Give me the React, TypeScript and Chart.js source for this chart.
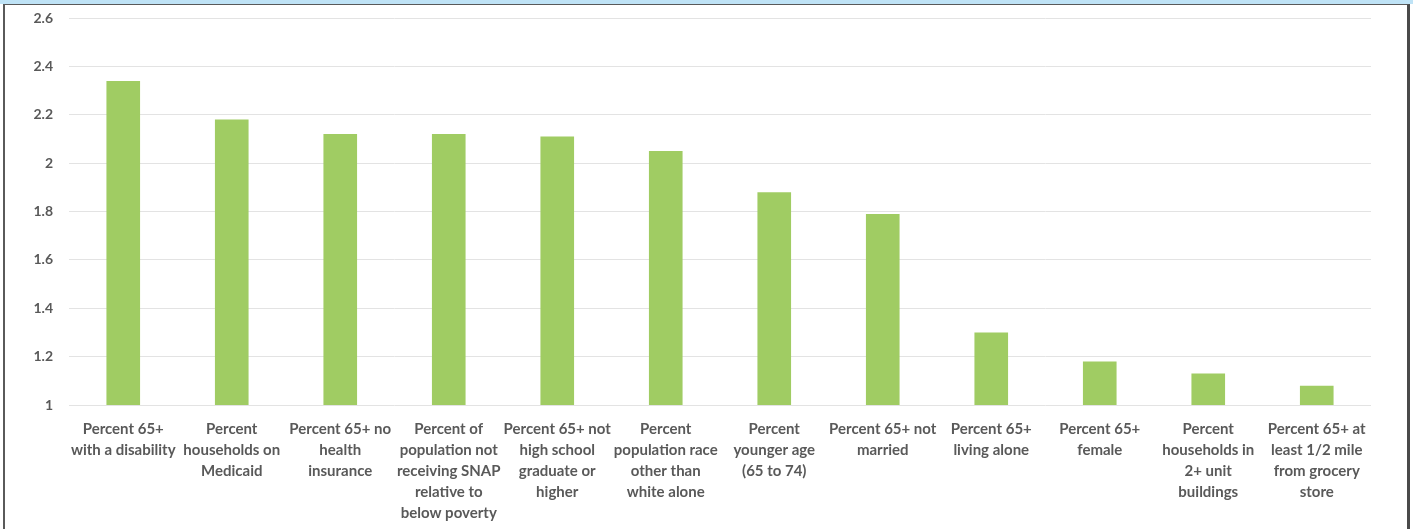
import React, { useEffect, useRef } from "react";
import { Chart, registerables } from "chart.js";

Chart.register(...registerables);

const categories: string[][] = [
  ["Percent 65+", "with a disability"],
  ["Percent", "households on", "Medicaid"],
  ["Percent 65+ no", "health", "insurance"],
  ["Percent of", "population not", "receiving SNAP", "relative to", "below poverty"],
  ["Percent 65+ not", "high school", "graduate or", "higher"],
  ["Percent", "population race", "other than", "white alone"],
  ["Percent", "younger age", "(65 to 74)"],
  ["Percent 65+ not", "married"],
  ["Percent 65+", "living alone"],
  ["Percent 65+", "female"],
  ["Percent", "households in", "2+ unit", "buildings"],
  ["Percent 65+ at", "least 1/2 mile", "from grocery", "store"],
];

const values: number[] = [2.34, 2.18, 2.12, 2.12, 2.11, 2.05, 1.88, 1.79, 1.3, 1.18, 1.13, 1.08];

const yMin = 1;
const yMax = 2.6;
const yStep = 0.2;

export default function App() {
  const canvasRef = useRef<HTMLCanvasElement | null>(null);

  useEffect(() => {
    if (!canvasRef.current) return;
    const font = { family: "Lato, 'Open Sans', sans-serif", size: 15, weight: "bold" as const, lineHeight: 1.4 };
    const chart = new Chart(canvasRef.current, {
      type: "bar",
      data: {
        labels: categories,
        datasets: [
          {
            data: values,
            backgroundColor: "#a0cc63",
            borderWidth: 0,
            barPercentage: 0.31,
            categoryPercentage: 1,
          },
        ],
      },
      options: {
        animation: false,
        responsive: false,
        maintainAspectRatio: false,
        layout: { padding: { top: 18, right: 42, bottom: 0, left: 0 } },
        plugins: { legend: { display: false }, tooltip: { enabled: false } },
        scales: {
          x: {
            grid: { display: false },
            border: { display: false },
            ticks: {
              color: "#595959",
              font,
              maxRotation: 0,
              minRotation: 0,
              autoSkip: false,
              padding: 6,
            },
            afterFit: (axis: any) => {
              axis.height = 124;
              axis.paddingLeft = 0;
              axis.paddingRight = 0;
            },
          },
          y: {
            min: yMin,
            max: yMax,
            grid: { color: "#e3e3e3", lineWidth: 1, drawTicks: false },
            border: { display: false },
            ticks: {
              stepSize: yStep,
              color: "#595959",
              font: { ...font, size: 14 },
              padding: 16,
              callback: (v: any) => String(Math.round(Number(v) * 10) / 10),
            },
            afterFit: (axis: any) => {
              axis.width = 69;
              axis.paddingTop = 0;
              axis.paddingBottom = 0;
            },
          },
        },
      },
    });
    return () => chart.destroy();
  }, []);

  return (
    <div style={{ position: "fixed", left: 0, top: 0, width: 1413, height: 529, background: "#ffffff", overflow: "hidden" }}>
      <div style={{ position: "absolute", left: 0, top: 0, width: 1413, height: 4, background: "#bfe3f6" }} />
      <div
        style={{
          position: "absolute",
          left: 3,
          top: 4,
          width: 1402,
          height: 540,
          borderLeft: "2px solid #5a5a5a",
          borderTop: "1px solid #5a5a5a",
          borderRight: "3px solid #4a4a4a",
          background: "#ffffff",
        }}
      />
      <canvas ref={canvasRef} width={1413} height={529} style={{ position: "absolute", left: 0, top: 0 }} />
    </div>
  );
}
